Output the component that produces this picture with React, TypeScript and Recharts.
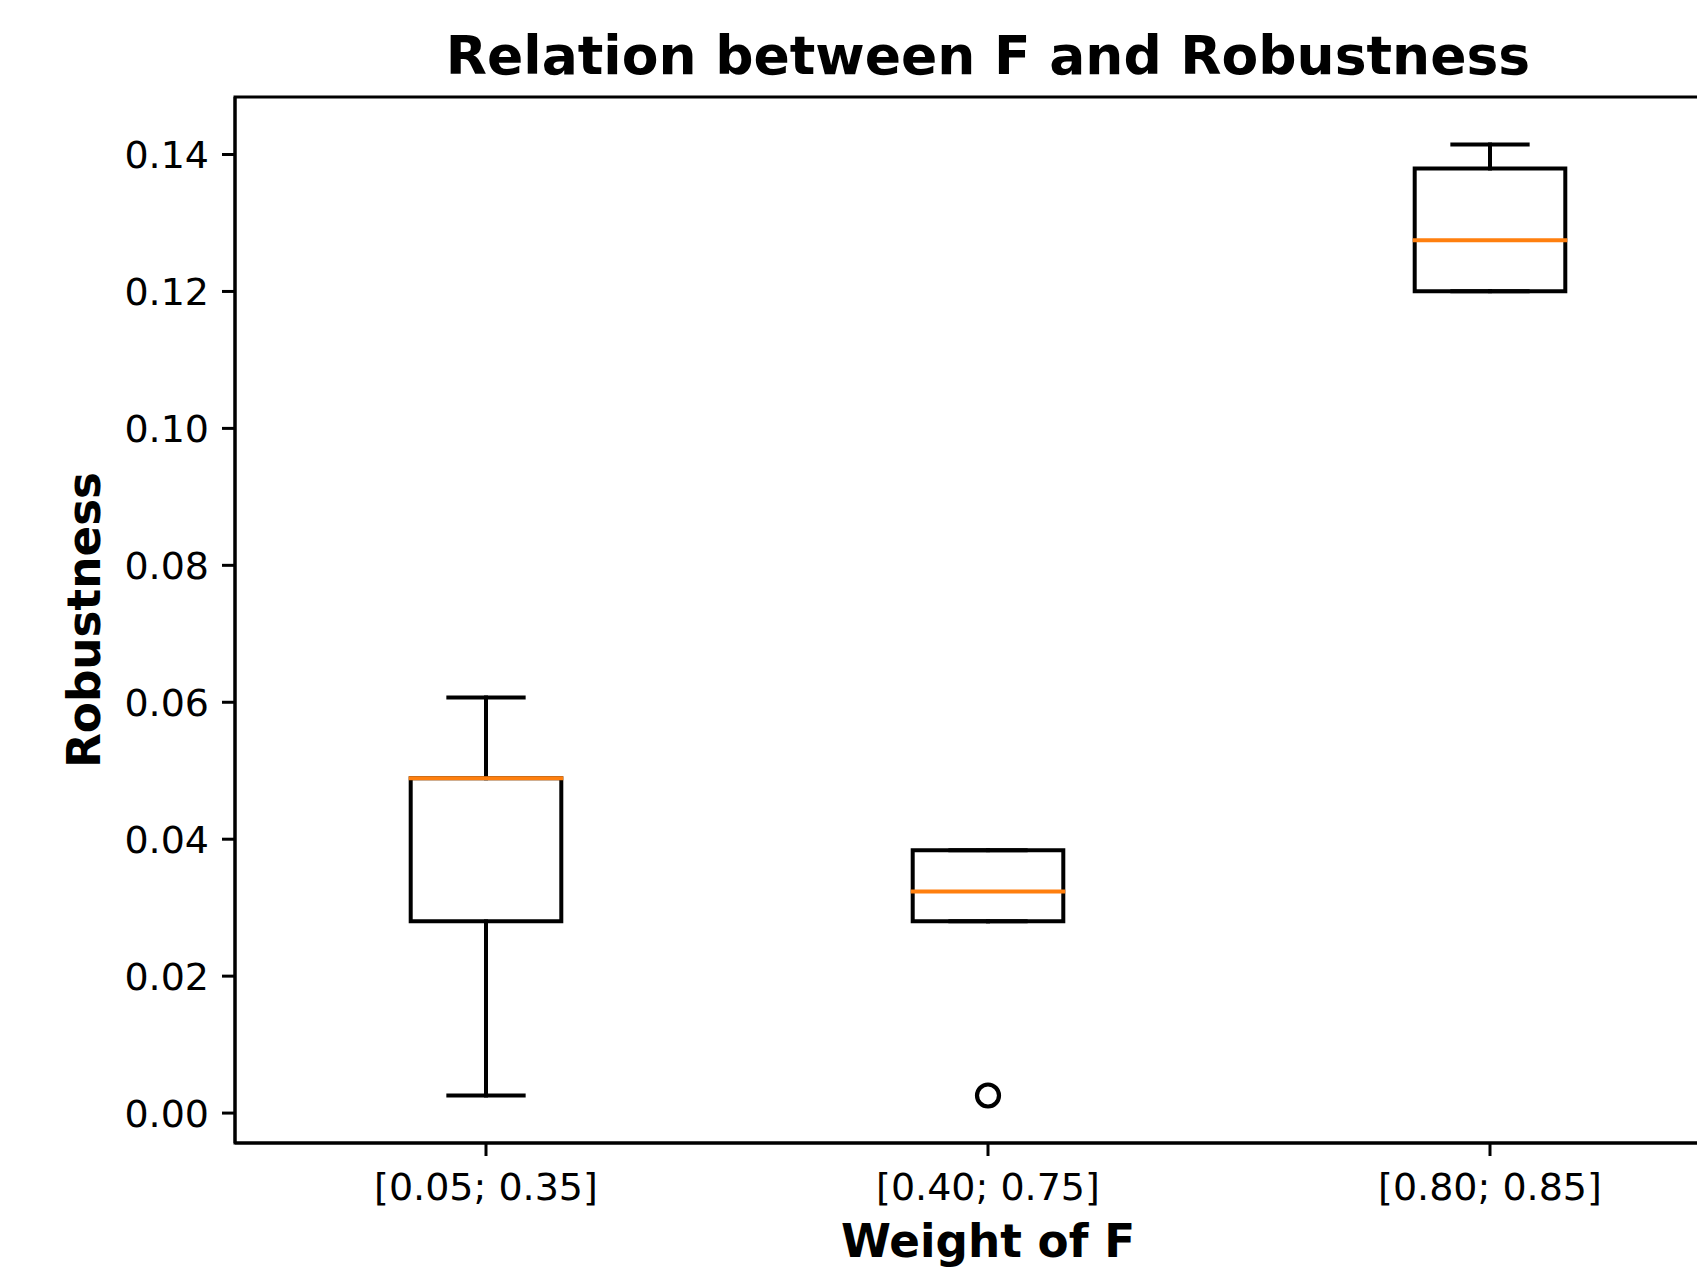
import React from 'react';
import { ComposedChart, XAxis, YAxis, Scatter, ReferenceArea } from 'recharts';

// ---- Data ----
const categories = ['[0.05; 0.35]', '[0.40; 0.75]', '[0.80; 0.85]'];
const lowerWhisker = [0.00257, 0.028, 0.12004];
const firstQuartile = [0.028, 0.028, 0.12004];
const medianValues = [0.0489, 0.03235, 0.12749];
const thirdQuartile = [0.0489, 0.0384, 0.13796];
const upperWhisker = [0.0607, 0.0384, 0.14146];
const outlierValues: number[][] = [[], [0.00257], []];
const yTicks = [0, 0.02, 0.04, 0.06, 0.08, 0.1, 0.12, 0.14];
const xTicks = [1, 2, 3];

const titleText = 'Relation between F and Robustness';
const xLabelText = 'Weight of F';
const yLabelText = 'Robustness';

// ---- Styles / geometry ----
const BOX_HALF = 0.15;
const CAP_HALF = 0.075;
const X_DOMAIN: [number, number] = [0.5, 3.5];
const Y_DOMAIN: [number, number] = [-0.00437, 0.1484];
const BLACK = '#000000';
const ORANGE = '#ff7f0e';
const FONT = '"DejaVu Sans", sans-serif';
const LW = 4;

type Pt = { x: number; y: number };
type Segment = { key: string; points: Pt[]; color: string };

const segments: Segment[] = [];
categories.forEach((_, i) => {
  const c = i + 1;
  segments.push({ key: `wl${i}`, color: BLACK, points: [{ x: c, y: firstQuartile[i] }, { x: c, y: lowerWhisker[i] }] });
  segments.push({ key: `wh${i}`, color: BLACK, points: [{ x: c, y: thirdQuartile[i] }, { x: c, y: upperWhisker[i] }] });
  segments.push({ key: `cl${i}`, color: BLACK, points: [{ x: c - CAP_HALF, y: lowerWhisker[i] }, { x: c + CAP_HALF, y: lowerWhisker[i] }] });
  segments.push({ key: `ch${i}`, color: BLACK, points: [{ x: c - CAP_HALF, y: upperWhisker[i] }, { x: c + CAP_HALF, y: upperWhisker[i] }] });
  segments.push({
    key: `bx${i}`,
    color: BLACK,
    points: [
      { x: c - BOX_HALF, y: firstQuartile[i] },
      { x: c + BOX_HALF, y: firstQuartile[i] },
      { x: c + BOX_HALF, y: thirdQuartile[i] },
      { x: c - BOX_HALF, y: thirdQuartile[i] },
      { x: c - BOX_HALF, y: firstQuartile[i] },
    ],
  });
});
categories.forEach((_, i) => {
  const c = i + 1;
  segments.push({ key: `md${i}`, color: ORANGE, points: [{ x: c - BOX_HALF, y: medianValues[i] }, { x: c + BOX_HALF, y: medianValues[i] }] });
});

const outlierPoints: Pt[] = [];
outlierValues.forEach((vals, i) => vals.forEach((v) => outlierPoints.push({ x: i + 1, y: v })));

const noShape = () => <g />;
const OutlierShape = (p: any) => (
  <circle cx={p.cx} cy={p.cy} r={11} fill="none" stroke={BLACK} strokeWidth={4.2} />
);

export default function App() {
  return (
    <div style={{ position: 'absolute', left: 0, top: 0, width: 1697, height: 1269, overflow: 'hidden', background: '#fff' }}>
      <ComposedChart width={1791} height={1269} margin={{ top: 97, right: 50, bottom: 0, left: 0 }}>
        <XAxis
          type="number"
          dataKey="x"
          domain={X_DOMAIN}
          ticks={xTicks}
          allowDataOverflow
          tickFormatter={(v: number) => categories[v - 1] ?? ''}
          height={126}
          axisLine={{ stroke: BLACK, strokeWidth: 3 }}
          tickLine={{ stroke: BLACK, strokeWidth: 3 }}
          tickSize={13}
          tickMargin={17}
          tick={{ fill: BLACK, fontSize: 38, fontFamily: FONT }}
          interval={0}
        />
        <YAxis
          type="number"
          dataKey="y"
          domain={Y_DOMAIN}
          ticks={yTicks}
          allowDataOverflow
          tickFormatter={(v: number) => v.toFixed(2)}
          width={235}
          axisLine={{ stroke: BLACK, strokeWidth: 3 }}
          tickLine={{ stroke: BLACK, strokeWidth: 3 }}
          tickSize={13}
          tickMargin={13}
          tick={{ fill: BLACK, fontSize: 38, fontFamily: FONT }}
          interval={0}
        />
        <ReferenceArea
          x1={X_DOMAIN[0]}
          x2={X_DOMAIN[1]}
          y1={Y_DOMAIN[0]}
          y2={Y_DOMAIN[1]}
          fill="none"
          fillOpacity={0}
          stroke={BLACK}
          strokeWidth={3}
          ifOverflow="visible"
        />
        {segments.map((s) => (
          <Scatter
            key={s.key}
            data={s.points}
            fill={s.color}
            line={{ stroke: s.color, strokeWidth: LW, strokeLinecap: 'square', strokeLinejoin: 'miter' }}
            shape={noShape}
            isAnimationActive={false}
          />
        ))}
        <Scatter data={outlierPoints} fill="none" shape={OutlierShape} isAnimationActive={false} />
      </ComposedChart>
      <svg
        width={1697}
        height={1269}
        style={{ position: 'absolute', left: 0, top: 0, pointerEvents: 'none' }}
      >
        <text x={988} y={74} textAnchor="middle" fontFamily={FONT} fontWeight="bold" fontSize={53.5} fill={BLACK}>
          {titleText}
        </text>
        <text x={988} y={1257} textAnchor="middle" fontFamily={FONT} fontWeight="bold" fontSize={45.3} fill={BLACK}>
          {xLabelText}
        </text>
        <text
          x={100}
          y={620}
          textAnchor="middle"
          fontFamily={FONT}
          fontWeight="bold"
          fontSize={45.3}
          fill={BLACK}
          transform="rotate(-90 100 620)"
        >
          {yLabelText}
        </text>
      </svg>
    </div>
  );
}
